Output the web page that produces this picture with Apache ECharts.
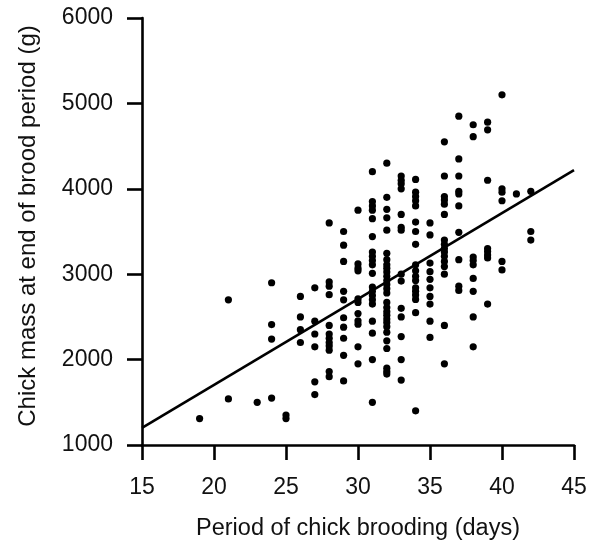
<!DOCTYPE html>
<html>
<head>
<meta charset="utf-8">
<script src="https://cdn.jsdelivr.net/npm/echarts@6/dist/echarts.min.js"></script>
<style>
  html, body { margin: 0; padding: 0; background: #fff; }
  #chart { width: 590px; height: 546px; }
</style>
</head>
<body>
<div id="chart"></div>
<script>
// Brooding period (days) for each group of observations
const broodDays = [19, 21, 23, 24, 25, 26, 27, 28, 29, 30, 31, 32, 33, 34, 35, 36, 37, 38, 39, 40, 41, 42];
// Chick mass (g) at end of brood period, one list per brooding period above
const chickMass = [
  [1310],
  [2700, 1540],
  [1500],
  [2900, 2410, 2240, 1550],
  [1350, 1310],
  [2740, 2500, 2350, 2200],
  [2840, 2450, 2300, 2150, 1740, 1590],
  [3600, 2910, 2860, 2760, 2400, 2300, 2250, 2200, 2160, 2110, 1860, 1800],
  [3500, 3340, 3150, 2800, 2700, 2490, 2380, 2250, 2050, 1750],
  [3750, 3120, 3070, 3040, 2710, 2670, 2540, 2455, 2415, 2150, 1950],
  [4200, 3850, 3800, 3750, 3650, 3440, 3260, 3210, 3160, 3110, 3010, 2850, 2800, 2750, 2700, 2650, 2450, 2310, 2000, 1500],
  [4300, 3900, 3760, 3660, 3515, 3245, 3170, 3110, 3070, 3025, 2975, 2925, 2880, 2830, 2780, 2670, 2610, 2560, 2520, 2475, 2435, 2385, 2320, 2220, 2130, 1900, 1860, 1830],
  [4150, 4100, 4060, 4000, 3700, 3550, 3515, 3000, 2920, 2600, 2500, 2270, 2000, 1760],
  [4110, 3960, 3910, 3860, 3800, 3610, 3500, 3350, 3110, 3040, 2975, 2925, 2840, 2800, 2755, 2705, 2550, 1400],
  [3600, 3460, 3130, 3030, 2940, 2840, 2740, 2650, 2450, 2260],
  [4550, 4150, 3910, 3870, 3820, 3700, 3400, 3350, 3300, 3260, 3210, 3150, 3090, 3000, 2400, 1950],
  [4850, 4350, 4150, 3970, 3940, 3800, 3490, 3170, 2860, 2810],
  [4750, 4610, 3200, 3160, 3110, 2950, 2800, 2500, 2150],
  [4780, 4690, 4100, 3300, 3265, 3225, 3190, 2650],
  [5100, 4000, 3960, 3860, 3150, 3050],
  [3940],
  [3970, 3500, 3400]
];
// Fitted regression line endpoints
const fitDays = [15, 45];
const fitMass = [1200, 4220];
// Axis ticks
const xTicks = [15, 20, 25, 30, 35, 40, 45];
const yTicks = [1000, 2000, 3000, 4000, 5000, 6000];

const points = [];
broodDays.forEach((d, i) => chickMass[i].forEach(m => points.push([d, m])));
const fitData = fitDays.map((d, i) => [d, fitMass[i]]);

const FONT = 'Liberation Sans, Arial, Helvetica, sans-serif';
const INK = '#111';

const chart = echarts.init(document.getElementById('chart'), null, { renderer: 'canvas' });
chart.setOption({
  animation: false,
  backgroundColor: '#fff',
  grid: { left: 142, right: 16, top: 18, bottom: 97, containLabel: false },
  xAxis: {
    type: 'value',
    min: xTicks[0], max: xTicks[xTicks.length - 1], interval: 5,
    name: 'Period of chick brooding (days)',
    nameLocation: 'middle', nameGap: 72,
    nameTextStyle: { fontSize: 23.5, color: INK, fontFamily: FONT },
    axisLine: { show: true, lineStyle: { color: '#000', width: 2.6 } },
    axisTick: { show: true, inside: false, length: 15, lineStyle: { color: '#000', width: 2.6 } },
    axisLabel: { fontSize: 23, color: INK, fontFamily: FONT, margin: 31, formatter: v => String(v) },
    splitLine: { show: false }
  },
  yAxis: {
    type: 'value',
    min: yTicks[0], max: yTicks[yTicks.length - 1], interval: 1000,
    name: 'Chick mass at end of brood period (g)',
    nameLocation: 'middle', nameGap: 102, nameRotate: 90,
    nameTextStyle: { fontSize: 24, color: INK, fontFamily: FONT, padding: [0, 0, 0, 11] },
    axisLine: { show: true, lineStyle: { color: '#000', width: 2.6 } },
    axisTick: { show: true, inside: false, length: 15, lineStyle: { color: '#000', width: 2.6 } },
    axisLabel: { fontSize: 23, color: INK, fontFamily: FONT, margin: 29, formatter: v => String(v) },
    splitLine: { show: false }
  },
  series: [
    {
      type: 'scatter',
      data: points,
      symbol: 'circle',
      symbolSize: 7.2,
      itemStyle: { color: '#000', opacity: 1 },
      z: 3
    },
    {
      type: 'line',
      data: fitData,
      showSymbol: false,
      symbol: 'none',
      lineStyle: { color: '#000', width: 2.6 },
      z: 2
    }
  ]
});
</script>
</body>
</html>
